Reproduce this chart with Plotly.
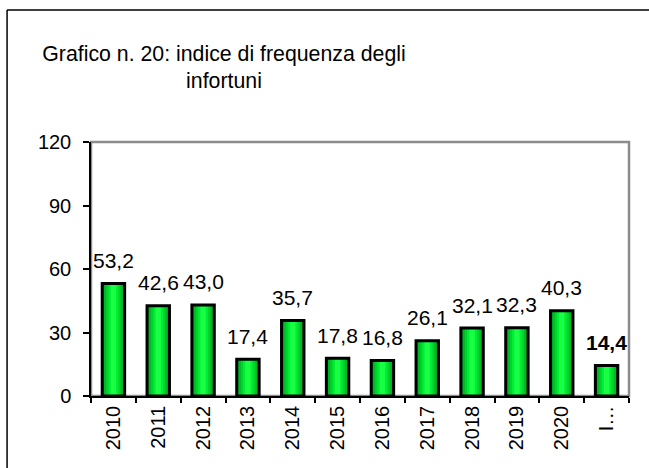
import plotly.graph_objects as go

categories = ["2010", "2011", "2012", "2013", "2014", "2015", "2016",
              "2017", "2018", "2019", "2020", "I…"]
values = [53.2, 42.6, 43.0, 17.4, 35.7, 17.8, 16.8, 26.1, 32.1, 32.3, 40.3, 14.4]
labels = ["53,2", "42,6", "43,0", "17,4", "35,7", "17,8", "16,8",
          "26,1", "32,1", "32,3", "40,3", "<b>14,4</b>"]
y_ticks = [0, 30, 60, 90, 120]

FONT = "Liberation Sans, Arial, sans-serif"
pos = list(range(len(categories)))

fig = go.Figure()

# gradient-like fill: stacked overlay of narrower, lighter bars
layers = [(0.5, "#009a1e"), (0.42, "#00b824"), (0.32, "#00d42c"),
          (0.22, "#00ec36"), (0.12, "#18ff44")]
for w, c in layers:
    fig.add_trace(go.Bar(x=pos, y=values, width=w,
                         marker=dict(color=c, line=dict(width=0)),
                         hoverinfo="skip", showlegend=False))
# outline
fig.add_trace(go.Bar(x=pos, y=values, width=0.5,
                     marker=dict(color="rgba(0,0,0,0)",
                                 line=dict(color="black", width=3)),
                     showlegend=False))

for p, v, t in zip(pos, values, labels):
    fig.add_annotation(x=p, y=v, xref="x", yref="y", text=t, showarrow=False,
                       yanchor="middle", yshift=23,
                       font=dict(family=FONT, size=21, color="black"))

# grey top/right frame of plot area
fig.add_shape(type="rect", xref="x domain", yref="y domain", x0=0, x1=1, y0=0, y1=1,
              line=dict(color="#8c8c8c", width=2.5), layer="below")
# outer chart border (left and top edges only; the rest lies outside the view)
fig.add_shape(type="line", xref="paper", yref="paper", x0=-0.156, x1=-0.156,
              y0=-0.6, y1=1.52, line=dict(color="black", width=1.5), layer="below")
fig.add_shape(type="line", xref="paper", yref="paper", x0=-0.156, x1=1.3,
              y0=1.52, y1=1.52, line=dict(color="black", width=1.5), layer="below")

fig.update_layout(
    width=649, height=468,
    margin=dict(l=91, r=20, t=142, b=72),
    paper_bgcolor="white", plot_bgcolor="white",
    barmode="overlay",
    font=dict(family=FONT, size=20, color="black"),
    title=dict(text="Grafico n. 20: indice di frequenza degli<br>infortuni",
               x=224 / 649, xanchor="center", xref="container",
               y=1 - 60.5 / 468, yanchor="middle", yref="container",
               font=dict(family=FONT, size=21.3, color="black")),
)
fig.update_xaxes(range=[-0.5, len(categories) - 0.5], tickmode="array",
                 tickvals=pos, ticktext=categories, tickangle=-90,
                 showline=True, linecolor="black", linewidth=1.5, ticks="",
                 showgrid=False, zeroline=False,
                 minor=dict(tickmode="array",
                            tickvals=[p - 0.5 for p in pos] + [len(pos) - 0.5],
                            ticks="outside", ticklen=5, tickcolor="black",
                            tickwidth=1.5, showgrid=False),
                 tickfont=dict(family=FONT, size=20, color="black"))
fig.update_yaxes(range=[0, 120], tickvals=y_ticks, showline=True, linecolor="black",
                 linewidth=1.5, ticks="outside", ticklen=6, tickcolor="black",
                 tickwidth=1.5, showgrid=False, zeroline=False,
                 ticklabelstandoff=8,
                 tickfont=dict(family=FONT, size=20, color="black"))

fig.write_html("out.html",
               config={"displayModeBar": False},
               post_script="document.body.style.margin='0';"
                           "document.body.style.overflow='hidden';")
